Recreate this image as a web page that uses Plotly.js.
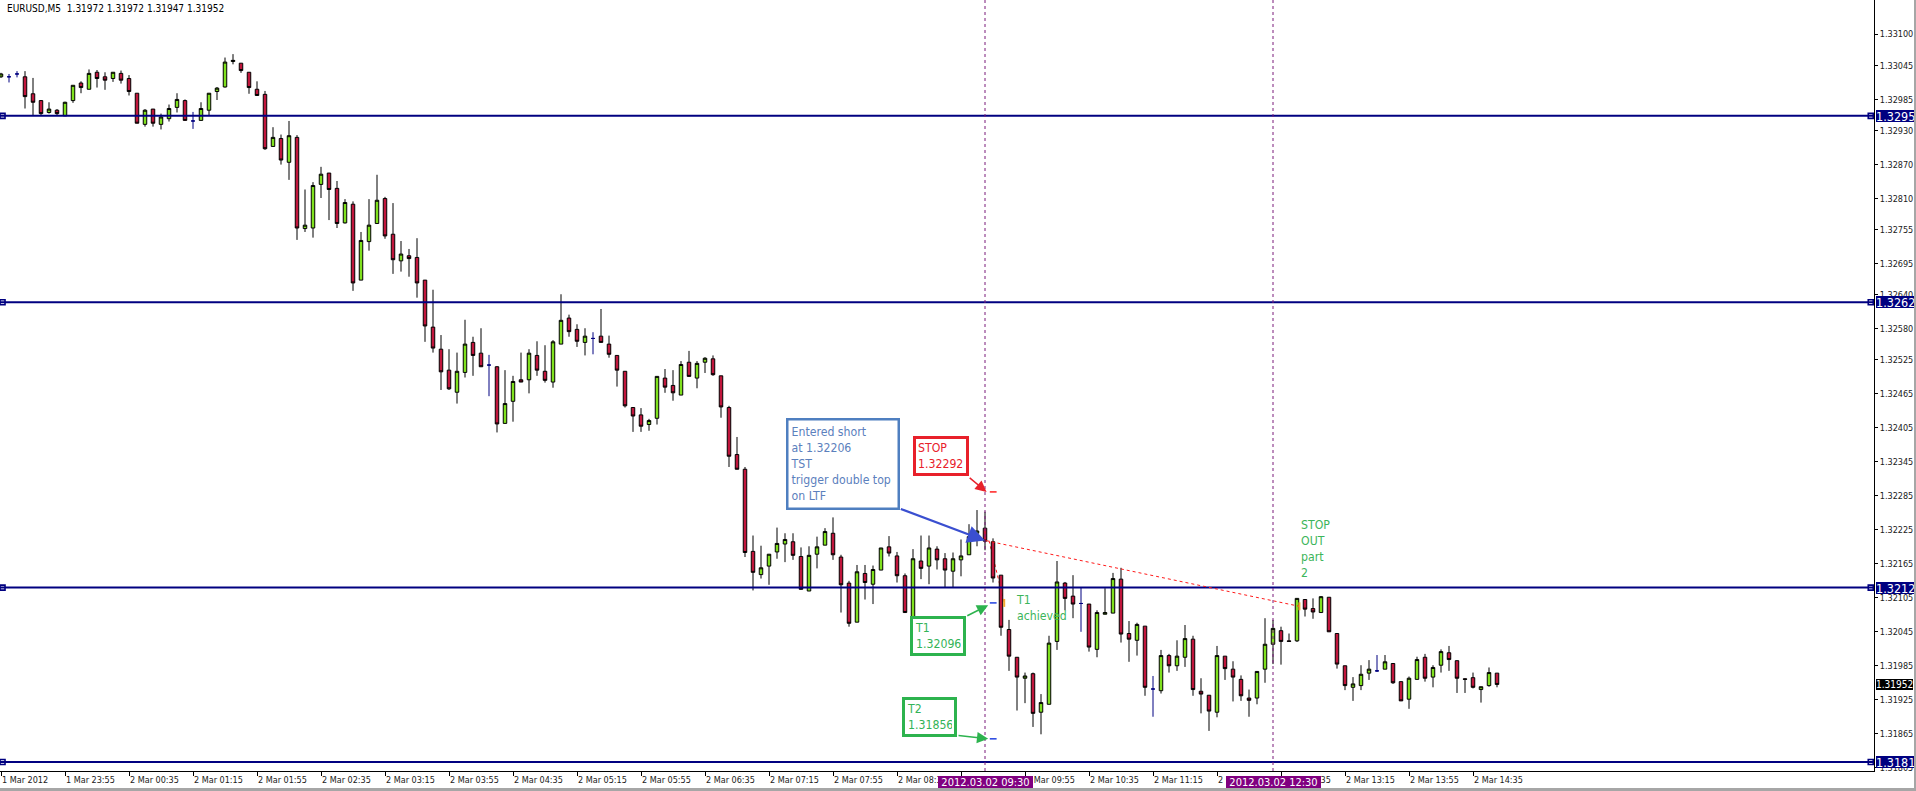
<!DOCTYPE html>
<html>
<head>
<meta charset="utf-8">
<script src="https://cdn.plot.ly/plotly-3.0.1.min.js"></script>
<style>
html,body{margin:0;padding:0;background:#a6a6a6;overflow:hidden}
#chart{width:1914px;height:788px;background:#fff}
</style>
</head>
<body>
<div id="chart"></div>
<script>
// ---------- data ----------
const symbol = 'EURUSD';
const timeframe = 'M5';

const open = [
1.33025,1.33025,1.33030,1.33025,1.32995,1.32983,1.32962,1.32966,1.32956,1.32983,
1.33014,1.33003,1.33033,1.33025,1.33022,1.33031,1.33022,1.32996,1.32941,1.32968,
1.32941,1.32951,1.32971,1.32983,1.32947,1.32948,1.32966,1.32999,1.33007,1.33052,
1.33049,1.33033,1.33003,1.32994,1.32902,1.32916,1.32874,1.32918,1.32757,1.32758,
1.32835,1.32855,1.32828,1.32767,1.32800,1.32666,1.32734,1.32766,1.32810,1.32747,
1.32700,1.32709,1.32706,1.32666,1.32583,1.32544,1.32507,1.32468,1.32503,1.32556,
1.32537,1.32516,1.32513,1.32413,1.32452,1.32490,1.32490,1.32533,1.32505,1.32486,
1.32553,1.32599,1.32579,1.32556,1.32563,1.32567,1.32553,1.32533,1.32505,1.32441,
1.32428,1.32411,1.32422,1.32493,1.32480,1.32463,1.32521,1.32493,1.32521,1.32527,
1.32497,1.32441,1.32358,1.32332,1.32187,1.32146,1.32161,1.32186,1.32200,1.32204,
1.32178,1.32117,1.32182,1.32198,1.32219,1.32177,1.32131,1.32062,1.32148,1.32129,
1.32154,1.32195,1.32179,1.32144,1.32071,1.32170,1.32161,1.32191,1.32174,1.32152,
1.32172,1.32181,1.32219,1.32228,1.32204,1.32145,1.32049,1.32000,1.31963,1.31971,
1.31903,1.31917,1.32028,1.32131,1.32108,1.32095,1.32094,1.32014,1.32076,1.32078,
1.32138,1.32042,1.32030,1.32055,1.31944,1.31941,1.32003,1.31985,1.32000,1.32032,
1.31940,1.31933,1.31903,1.32002,1.31979,1.31961,1.31928,1.31928,1.31979,1.32023,
1.32047,1.32029,1.32029,1.32102,1.32086,1.32079,1.32106,1.32042,1.31985,1.31947,
1.31950,1.31972,1.31976,1.31979,1.31989,1.31957,1.31926,1.31961,1.32000,1.31965,
1.31986,1.32008,1.31994,1.31962,1.31964,1.31943,1.31950,1.31972];

const high = [
1.33032,1.33030,1.33035,1.33035,1.33023,1.32984,1.32980,1.32968,1.32981,1.33010,
1.33017,1.33038,1.33037,1.33033,1.33033,1.33036,1.33028,1.32996,1.32968,1.32968,
1.32960,1.32976,1.32996,1.32985,1.32963,1.32980,1.32996,1.33007,1.33059,1.33065,
1.33049,1.33033,1.33017,1.33000,1.32936,1.32923,1.32947,1.32922,1.32826,1.32839,
1.32866,1.32855,1.32841,1.32809,1.32805,1.32751,1.32809,1.32852,1.32813,1.32802,
1.32735,1.32721,1.32740,1.32666,1.32649,1.32569,1.32544,1.32538,1.32596,1.32566,
1.32581,1.32534,1.32514,1.32507,1.32497,1.32538,1.32544,1.32558,1.32551,1.32560,
1.32641,1.32605,1.32588,1.32581,1.32574,1.32615,1.32568,1.32533,1.32505,1.32441,
1.32440,1.32421,1.32496,1.32509,1.32507,1.32523,1.32541,1.32523,1.32530,1.32533,
1.32497,1.32444,1.32389,1.32336,1.32215,1.32197,1.32182,1.32229,1.32219,1.32219,
1.32194,1.32196,1.32213,1.32228,1.32247,1.32181,1.32135,1.32163,1.32163,1.32162,
1.32193,1.32214,1.32186,1.32148,1.32191,1.32215,1.32215,1.32196,1.32184,1.32185,
1.32208,1.32235,1.32260,1.32257,1.32210,1.32145,1.32066,1.32000,1.31973,1.31973,
1.31935,1.32038,1.32170,1.32133,1.32145,1.32123,1.32094,1.32083,1.32122,1.32149,
1.32158,1.32064,1.32061,1.32055,1.31967,1.32013,1.32006,1.32030,1.32057,1.32038,
1.31963,1.31933,1.32020,1.32002,1.31993,1.31968,1.31943,1.31975,1.32069,1.32066,
1.32054,1.32042,1.32104,1.32102,1.32104,1.32108,1.32106,1.32042,1.31985,1.31965,
1.31986,1.31995,1.32004,1.32004,1.31989,1.31957,1.31966,1.32001,1.32006,1.31986,
1.32014,1.32020,1.31994,1.31963,1.31973,1.31948,1.31982,1.31972];

const low = [
1.33023,1.33015,1.33024,1.32969,1.32956,1.32956,1.32960,1.32957,1.32956,1.32979,
1.32996,1.33003,1.33006,1.33002,1.33016,1.33013,1.32992,1.32943,1.32937,1.32937,
1.32932,1.32946,1.32962,1.32948,1.32933,1.32948,1.32956,1.32984,1.33006,1.33047,
1.33032,1.32995,1.32992,1.32896,1.32902,1.32870,1.32843,1.32737,1.32751,1.32741,
1.32811,1.32772,1.32758,1.32766,1.32647,1.32666,1.32718,1.32766,1.32739,1.32677,
1.32681,1.32672,1.32635,1.32557,1.32538,1.32472,1.32472,1.32448,1.32494,1.32497,
1.32513,1.32461,1.32397,1.32413,1.32416,1.32486,1.32466,1.32497,1.32485,1.32476,
1.32553,1.32566,1.32548,1.32533,1.32535,1.32556,1.32529,1.32478,1.32441,1.32398,
1.32398,1.32400,1.32411,1.32467,1.32453,1.32463,1.32496,1.32475,1.32502,1.32497,
1.32423,1.32336,1.32332,1.32177,1.32118,1.32139,1.32128,1.32174,1.32168,1.32172,
1.32120,1.32117,1.32157,1.32198,1.32172,1.32079,1.32054,1.32062,1.32102,1.32094,
1.32154,1.32178,1.32132,1.32079,1.32071,1.32138,1.32129,1.32155,1.32124,1.32124,
1.32143,1.32181,1.32196,1.32189,1.32132,1.32038,1.31976,1.31906,1.31919,1.31877,
1.31864,1.31917,1.32013,1.32083,1.32069,1.32045,1.32010,1.32000,1.32076,1.32078,
1.32026,1.31992,1.32003,1.31932,1.31895,1.31936,1.31973,1.31976,1.31983,1.31932,
1.31901,1.31870,1.31894,1.31960,1.31922,1.31923,1.31895,1.31917,1.31955,1.31988,
1.31987,1.32027,1.32027,1.32072,1.32068,1.32079,1.32045,1.31980,1.31942,1.31923,
1.31942,1.31960,1.31974,1.31979,1.31953,1.31923,1.31909,1.31961,1.31957,1.31947,
1.31973,1.31976,1.31937,1.31937,1.31945,1.31920,1.31948,1.31947];

const close = [
1.33030,1.33025,1.33030,1.32990,1.32980,1.32960,1.32968,1.32960,1.32980,1.33010,
1.33006,1.33031,1.33022,1.33019,1.33033,1.33019,1.32999,1.32943,1.32966,1.32943,
1.32954,1.32969,1.32985,1.32948,1.32947,1.32969,1.32996,1.33005,1.33051,1.33054,
1.33036,1.33006,1.32992,1.32898,1.32918,1.32878,1.32921,1.32758,1.32763,1.32833,
1.32853,1.32826,1.32766,1.32803,1.32661,1.32736,1.32763,1.32807,1.32744,1.32702,
1.32712,1.32704,1.32661,1.32585,1.32546,1.32504,1.32474,1.32505,1.32553,1.32533,
1.32513,1.32516,1.32412,1.32448,1.32487,1.32486,1.32537,1.32507,1.32489,1.32557,
1.32595,1.32575,1.32558,1.32567,1.32563,1.32556,1.32535,1.32507,1.32444,1.32426,
1.32408,1.32418,1.32496,1.32477,1.32467,1.32517,1.32496,1.32519,1.32528,1.32499,
1.32442,1.32355,1.32332,1.32185,1.32150,1.32158,1.32182,1.32201,1.32208,1.32180,
1.32120,1.32180,1.32195,1.32222,1.32181,1.32128,1.32060,1.32151,1.32132,1.32155,
1.32193,1.32184,1.32144,1.32079,1.32174,1.32157,1.32193,1.32172,1.32154,1.32174,
1.32179,1.32213,1.32223,1.32205,1.32140,1.32053,1.32002,1.31965,1.31967,1.31901,
1.31920,1.32025,1.32133,1.32104,1.32094,1.32095,1.32018,1.32079,1.32079,1.32139,
1.32041,1.32032,1.32058,1.31947,1.31944,1.32003,1.31985,1.32002,1.32033,1.31943,
1.31935,1.31905,1.32003,1.31980,1.31965,1.31932,1.31924,1.31975,1.32023,1.32051,
1.32028,1.32028,1.32104,1.32085,1.32080,1.32107,1.32045,1.31988,1.31950,1.31953,
1.31970,1.31979,1.31976,1.31992,1.31955,1.31923,1.31963,1.31996,1.31963,1.31982,
1.32010,1.31996,1.31963,1.31961,1.31947,1.31948,1.31973,1.31952];

// time-axis labels, one every 8 bars (40 minutes) starting at bar 0
const tickLabels = ['1 Mar 2012','1 Mar 23:55','2 Mar 00:35','2 Mar 01:15','2 Mar 01:55',
  '2 Mar 02:35','2 Mar 03:15','2 Mar 03:55','2 Mar 04:35','2 Mar 05:15','2 Mar 05:55',
  '2 Mar 06:35','2 Mar 07:15','2 Mar 07:55','2 Mar 08:35','2 Mar 09:15','2 Mar 09:55',
  '2 Mar 10:35','2 Mar 11:15','2 Mar 11:55','2 Mar 12:35','2 Mar 13:15','2 Mar 13:55',
  '2 Mar 14:35'];
const barsPerTick = 8;

// price-axis labels
const priceTicks = [1.33100,1.33045,1.32985,1.32930,1.32870,1.32810,1.32755,1.32695,
  1.32640,1.32580,1.32525,1.32465,1.32405,1.32345,1.32285,1.32225,1.32165,1.32105,
  1.32045,1.31985,1.31925,1.31865,1.31805];

// horizontal levels drawn on the chart
const levelPrices = [1.32956, 1.32627, 1.32123, 1.31815];
const levelLabels = ['1.3295', '1.3262', '1.3212', '1.3181'];

// vertical time markers
const markerBars = [123, 159];
const markerLabels = ['2012.03.02 09:30', '2012.03.02 12:30'];

// trade
const entryBar = 123;
const entryPrice = 1.32206;
const stopPrice = 1.32292;
const target1 = 1.32096;
const target2 = 1.31856;
const exitBars = [125.4, 162.3];
const exitPrices = [1.32096, 1.32090];

// ---------- build ----------
const FONT = 'DejaVu Sans Condensed, DejaVu Sans, Liberation Sans, sans-serif';
const N = close.length;

function subset(pred) {
  const s = {x: [], open: [], high: [], low: [], close: []};
  for (let i = 0; i < N; i++) {
    if (pred(i)) {
      s.x.push(i); s.open.push(open[i]); s.high.push(high[i]);
      s.low.push(low[i]); s.close.push(close[i]);
    }
  }
  return s;
}
const GREEN = '#7fe01e', RED = '#c0163c';
function candle(s, fill, lineColor) {
  return Object.assign({
    type: 'candlestick', hoverinfo: 'skip', showlegend: false,
    increasing: {fillcolor: fill, line: {color: lineColor, width: 1}},
    decreasing: {fillcolor: fill, line: {color: lineColor, width: 1}},
    whiskerwidth: 0
  }, s);
}
const upS = subset(i => close[i] > open[i]);
const dnS = subset(i => close[i] < open[i]);
const djS = subset(i => close[i] === open[i]);

const traces = [
  candle(upS, GREEN, '#000000'),
  candle(dnS, RED, '#000000'),
  candle(djS, '#000080', '#000080')
];

// small square handles at both ends of each horizontal level
const hx = [], hy = [];
levelPrices.forEach(p => { hx.push(0.19, 233.72); hy.push(p, p); });
traces.push({
  type: 'scatter', mode: 'markers', x: hx, y: hy, hoverinfo: 'skip', showlegend: false,
  cliponaxis: false,
  marker: {symbol: 'square', size: 5, color: '#ffffff', line: {color: '#000080', width: 1.6}}
});

const shapes = [];
levelPrices.forEach(p => shapes.push({
  type: 'line', xref: 'paper', x0: 0, x1: 1, yref: 'y', y0: p, y1: p,
  line: {color: '#000080', width: 2}
}));
markerBars.forEach(b => shapes.push({
  type: 'line', xref: 'x', x0: b, x1: b, yref: 'paper', y0: 0, y1: 1,
  line: {color: '#7a1a7a', width: 1, dash: 'dot'}
}));
// trade lines (entry -> exits)
shapes.push({type: 'line', xref: 'x', yref: 'y', x0: entryBar + 0.1, y0: entryPrice,
  x1: exitBars[1], y1: exitPrices[1], line: {color: '#ff1a1a', width: 1, dash: '3px,3px'}});
shapes.push({type: 'line', xref: 'x', yref: 'y', x0: entryBar + 0.5, y0: entryPrice,
  x1: exitBars[0], y1: exitPrices[0], layer: 'below', line: {color: '#ff1a1a', width: 1, dash: '3px,3px'}});
// exit marks
exitBars.forEach((b, k) => shapes.push({type: 'line', xref: 'x', yref: 'y', x0: b, x1: b,
  y0: exitPrices[k] - 0.00007, y1: exitPrices[k] + 0.00007, line: {color: '#f0a830', width: 2}}));
// SL / TP dashes
[[stopPrice, '#ff2020'], [target1, '#2040e0'], [target2, '#2040e0']].forEach(([p, c]) =>
  shapes.push({type: 'line', xref: 'x', yref: 'y', x0: entryBar + 0.6, x1: entryBar + 1.45,
    y0: p, y1: p, line: {color: c, width: 1.5}}));

const ann = [];
// header
ann.push({xref: 'paper', yref: 'paper', x: 0, y: 1, xanchor: 'left', yanchor: 'top',
  xshift: 5, yshift: -1, showarrow: false, align: 'left',
  text: symbol + ',' + timeframe + '  ' + [open[N-1], high[N-1], low[N-1], close[N-1]].map(v => v.toFixed(5)).join(' '),
  font: {family: FONT, size: 10, color: '#000000'}});

// level labels at the price scale
levelPrices.forEach((p, k) => ann.push({xref: 'paper', yref: 'y', x: 1, y: p,
  xanchor: 'left', yanchor: 'middle', xshift: 2, showarrow: false, align: 'left',
  text: levelLabels[k], bgcolor: '#000080', borderwidth: 0, borderpad: 0, width: 38, height: 12,
  font: {family: FONT, size: 12.5, color: '#ffffff'}}));
// current price label
ann.push({xref: 'paper', yref: 'y', x: 1, y: close[N-1], xanchor: 'left', yanchor: 'middle',
  xshift: 2, showarrow: false, align: 'left', text: close[N-1].toFixed(5),
  bgcolor: '#000000', borderwidth: 0, borderpad: 0, width: 37, height: 11,
  font: {family: FONT, size: 10, color: '#ffffff'}});
// time marker labels
markerBars.forEach((b, k) => ann.push({xref: 'x', yref: 'paper', x: b, y: 0,
  xanchor: 'center', yanchor: 'top', yshift: -4.5, showarrow: false,
  text: markerLabels[k], bgcolor: '#800080', borderwidth: 0, borderpad: 0, width: 95, height: 12,
  font: {family: FONT, size: 11, color: '#ffffff'}}));

// boxed notes
function box(text, x, y, w, h, color, border, bw) {
  return {xref: 'x', yref: 'y', x: x, y: y, xanchor: 'left', yanchor: 'top', showarrow: false,
    align: 'left', valign: 'middle', text: text, bgcolor: 'rgba(255,255,255,0)',
    bordercolor: border, borderwidth: bw, borderpad: 2, width: w - 2 * (bw + 2), height: h - 2 * (bw + 2),
    font: {family: FONT, size: 12.2, color: color}};
}
ann.push(box('Entered short<br>at ' + entryPrice.toFixed(5) + '<br>TST<br>trigger double top<br>on LTF',
  98.09, 1.32423, 114, 92, '#5b80bd', '#4f7fc0', 2.5));
ann.push(box('STOP<br>' + stopPrice.toFixed(5), 114.0, 1.32390, 56, 40, '#e8202a', '#e8202a', 3));
ann.push(box('T1<br>' + target1.toFixed(5), 113.66, 1.32073, 56, 40, '#33b357', '#2db34e', 3));
ann.push(box('T2<br>' + target2.toFixed(5), 112.66, 1.31930, 55, 40, '#33b357', '#2db34e', 3));

// arrows
function arrow(x, y, ax, ay, color, w, size) {
  return {xref: 'x', yref: 'y', axref: 'x', ayref: 'y', x: x, y: y, ax: ax, ay: ay,
    text: '', showarrow: true, arrowhead: 2, arrowsize: size, arrowwidth: w, arrowcolor: color,
    standoff: 0, startstandoff: 0};
}
ann.push(arrow(entryBar, entryPrice, 112.29, 1.32263, '#3a4fd0', 2.2, 1.6));
ann.push(arrow(123.2, stopPrice, 120.9, 1.32319, '#e8202a', 1.5, 1.5));
ann.push(arrow(123.4, 1.32092, 120.6, 1.32072, '#2db34e', 1.5, 1.5));
ann.push(arrow(123.4, target2, 119.5, 1.31862, '#2db34e', 1.5, 1.5));

// plain notes
ann.push({xref: 'x', yref: 'y', x: 126.68, y: 1.32117, xanchor: 'left', yanchor: 'top',
  showarrow: false, align: 'left', text: 'T1<br>achieved',
  font: {family: FONT, size: 12.2, color: '#3cb55a'}});
ann.push({xref: 'x', yref: 'y', x: 162.25, y: 1.32250, xanchor: 'left', yanchor: 'top',
  showarrow: false, align: 'left', text: 'STOP<br>OUT<br>part<br>2',
  font: {family: FONT, size: 12.2, color: '#3cb55a'}});

const layout = {
  width: 1914, height: 788,
  margin: {l: 0, r: 40, t: 0, b: 17, pad: 0},
  paper_bgcolor: '#ffffff', plot_bgcolor: '#ffffff',
  showlegend: false, boxgap: 0.38, hovermode: false,
  font: {family: FONT, size: 9, color: '#000000'},
  xaxis: {
    type: 'linear', range: [-0.125, 234.125], rangeslider: {visible: false},
    tickmode: 'array', tickvals: tickLabels.map((_, k) => k * barsPerTick), ticktext: tickLabels,
    ticks: 'outside', ticklen: 4, tickwidth: 1, tickcolor: '#000000',
    ticklabelposition: 'outside right', tickfont: {family: FONT, size: 9, color: '#1a1a1a'},
    showgrid: false, zeroline: false, showline: true, mirror: true, linecolor: '#000000', linewidth: 1,
    fixedrange: true
  },
  yaxis: {
    type: 'linear', side: 'right', range: [1.317992, 1.331606],
    tickmode: 'array', tickvals: priceTicks, ticktext: priceTicks.map(v => v.toFixed(5)),
    ticks: 'outside', ticklen: 3, tickwidth: 1, tickcolor: '#000000',
    tickfont: {family: FONT, size: 9, color: '#1a1a1a'},
    showgrid: false, zeroline: false, showline: true, mirror: true, linecolor: '#000000', linewidth: 1,
    fixedrange: true
  },
  shapes: shapes,
  annotations: ann
};

Plotly.newPlot('chart', traces, layout, {displayModeBar: false, staticPlot: true});
</script>
</body>
</html>
